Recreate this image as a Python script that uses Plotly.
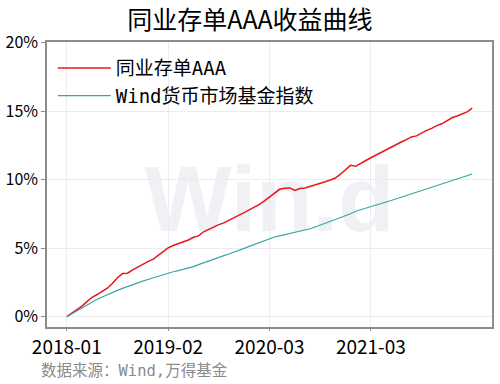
import plotly.graph_objects as go

tick_labels = ["2018-01", "2019-02", "2020-03", "2021-03"]
tick_pos = [0, 20, 40, 60]
idx = list(range(81))

ncd_aaa = [0.00, 0.25, 0.50, 0.78, 1.10, 1.42, 1.62, 1.85, 2.08, 2.42,
           2.85, 3.15, 3.18, 3.42, 3.62, 3.85, 4.02, 4.18, 4.45, 4.78,
           5.02, 5.20, 5.32, 5.45, 5.60, 5.80, 5.90, 6.20, 6.38, 6.55,
           6.72, 6.85, 7.02, 7.22, 7.42, 7.60, 7.78, 7.97, 8.20, 8.45,
           8.75, 9.05, 9.30, 9.38, 9.40, 9.22, 9.36, 9.40, 9.50, 9.60,
           9.72, 9.85, 9.98, 10.12, 10.40, 10.75, 11.05, 10.98, 11.22, 11.40,
           11.60, 11.80, 12.00, 12.18, 12.35, 12.55, 12.75, 12.93, 13.12, 13.20,
           13.42, 13.60, 13.75, 13.95, 14.08, 14.30, 14.52, 14.65, 14.78, 14.95,
           15.22]

mmf_index = [0.00, 0.22, 0.44, 0.66, 0.88, 1.10, 1.27, 1.44, 1.62, 1.77,
             1.92, 2.07, 2.21, 2.36, 2.48, 2.60, 2.72, 2.84, 2.96, 3.08,
             3.18, 3.28, 3.37, 3.46, 3.56, 3.66, 3.80, 3.94, 4.07, 4.20,
             4.33, 4.46, 4.58, 4.70, 4.85, 4.99, 5.13, 5.27, 5.42, 5.57,
             5.72, 5.82, 5.90, 5.98, 6.06, 6.14, 6.22, 6.32, 6.42, 6.55,
             6.68, 6.82, 6.96, 7.10, 7.22, 7.36, 7.52, 7.70, 7.82, 7.93,
             8.04, 8.15, 8.26, 8.37, 8.48, 8.60, 8.71, 8.83, 8.95, 9.07,
             9.18, 9.30, 9.42, 9.55, 9.67, 9.80, 9.92, 10.05, 10.17, 10.30,
             10.42]

names = ["同业存单AAA", "Wind货币市场基金指数"]
colors = ["#e8161b", "#3aa6a0"]

CJK = "Noto Sans CJK SC"
MONO = "DejaVu Sans Mono, Noto Sans CJK SC"

fig = go.Figure()
fig.add_trace(go.Scatter(x=idx, y=ncd_aaa, mode="lines", name=names[0],
                         line=dict(color=colors[0], width=1.5)))
fig.add_trace(go.Scatter(x=idx, y=mmf_index, mode="lines", name=names[1],
                         line=dict(color=colors[1], width=1.2)))

# faint watermark drawn beneath the data
fig.add_shape(type="rect", xref="paper", yref="paper", x0=0.25, x1=0.75, y0=0.3, y1=0.66,
              line=dict(width=0), fillcolor="rgba(0,0,0,0)", layer="below",
              label=dict(text="<b>Win.d</b>", textposition="middle center",
                         font=dict(family="Liberation Sans Narrow, Liberation Sans",
                                   size=92, color="#f1f0f4")))

fig.add_annotation(text="数据来源：Wind,万得基金", xref="paper", yref="paper",
                   x=-0.018, y=-0.155, xanchor="left", yanchor="middle", showarrow=False,
                   font=dict(family=MONO, size=15.5, color="#8a8a8a"))

fig.update_layout(
    width=500, height=384,
    margin=dict(l=42, r=6, t=42, b=57),
    paper_bgcolor="white", plot_bgcolor="white",
    title=dict(text="同业存单AAA收益曲线", x=0.5, xanchor="center", y=0.947, yanchor="middle",
               font=dict(family=CJK, size=25, color="black")),
    legend=dict(x=0.013, y=0.975, xanchor="left", yanchor="top", bgcolor="rgba(0,0,0,0)",
                font=dict(family=MONO, size=19, color="black"), itemwidth=53, tracegroupgap=2),
    showlegend=True,
)
fig.update_xaxes(range=[-3.9, 83.9], tickvals=tick_pos, ticktext=tick_labels,
                 showgrid=True, gridcolor="#ebebf0", gridwidth=1,
                 showline=True, linecolor="#8c8c8c", linewidth=1.5, mirror=True,
                 ticks="outside", ticklen=2, tickcolor="#8c8c8c",
                 tickfont=dict(family=CJK, size=19, color="black"), zeroline=False)
fig.update_yaxes(range=[-0.75, 20.05], tickvals=[0, 5, 10, 15, 20],
                 ticktext=["0%", "5%", "10%", "15%", "20%"],
                 showgrid=True, gridcolor="#ebebf0", gridwidth=1,
                 showline=True, linecolor="#8c8c8c", linewidth=1.5, mirror=True,
                 ticks="outside", ticklen=4, tickcolor="#8c8c8c",
                 tickfont=dict(family=CJK, size=16, color="black"), zeroline=False)

fig.write_html("out.html")
